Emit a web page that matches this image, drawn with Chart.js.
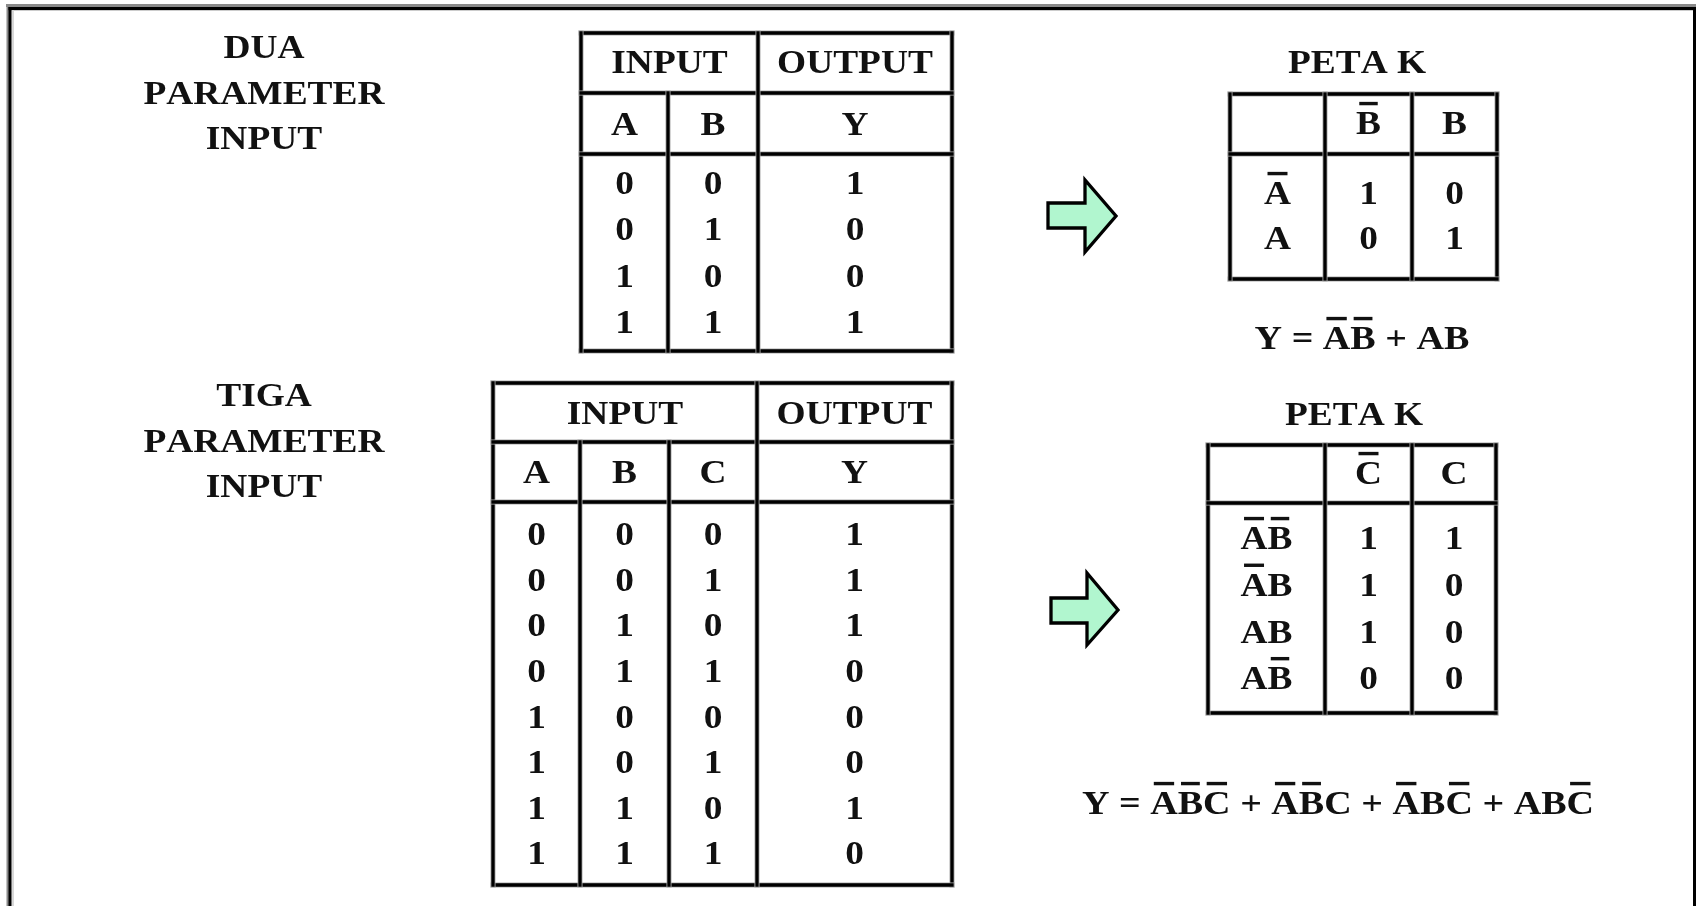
<!DOCTYPE html>
<html><head><meta charset="utf-8">
<script src="https://cdn.jsdelivr.net/npm/chart.js@4.4.1/dist/chart.umd.min.js"></script>
<style>html,body{margin:0;padding:0;background:#fff;overflow:hidden}</style>
</head><body><canvas id="c" width="1696" height="906"></canvas>
<script>
// ---------- data ----------
const titleTwo = ['DUA', 'PARAMETER', 'INPUT'];
const titleThree = ['TIGA', 'PARAMETER', 'INPUT'];
const headTop = ['INPUT', 'OUTPUT'];
const headTwo = ['A', 'B', 'Y'];
const headThree = ['A', 'B', 'C', 'Y'];
const twoA = [0, 0, 1, 1];
const twoB = [0, 1, 0, 1];
const twoY = [1, 0, 0, 1];
const threeA = [0, 0, 0, 0, 1, 1, 1, 1];
const threeB = [0, 0, 1, 1, 0, 0, 1, 1];
const threeC = [0, 1, 0, 1, 0, 1, 0, 1];
const threeY = [1, 1, 1, 0, 0, 0, 1, 0];
const kTitle = 'PETA K';
const kTwoCols = ['!B', 'B'];          // "!" = overbar on next letter
const kTwoRows = ['!A', 'A'];
const kTwoNotB = [1, 0];
const kTwoB = [0, 1];
const kThreeCols = ['!C', 'C'];
const kThreeRows = ['!A!B', '!AB', 'AB', 'A!B'];
const kThreeNotC = [1, 1, 1, 0];
const kThreeC = [1, 0, 0, 0];
const eqTwo = 'Y = !A!B + AB';
const eqThree = 'Y = !A!B!C + !A!BC + !AB!C + AB!C';

// ---------- layout (value space of the chart's x / y scales) ----------
const G = {
  titleX: 264, title2Y0: 47, title3Y0: 395, titleDy: 45.5,
  t2: { xs: [581, 668, 758, 952], ys: [33, 93, 154, 351], headY: 62, subY: 124, rowY0: 183, rowDy: 46.2 },
  t3: { xs: [493, 580, 669, 757, 952], ys: [383, 442, 502, 885], headY: 413, subY: 472, rowY0: 534, rowDy: 45.6 },
  k2: { xs: [1230, 1325, 1412, 1497], ys: [94, 154, 279], titleX: 1357, titleY: 62, headY: 123, rowY0: 193, rowDy: 45 },
  k3: { xs: [1208, 1325, 1412, 1496], ys: [445, 503, 713], titleX: 1354, titleY: 414, headY: 473, rowY0: 538, rowDy: 46.7 },
  eq2: { x: 1362, y: 338 }, eq3: { x: 1338, y: 803 },
  arrows: [
    { x0: 1048, x1: 1085, x2: 1116, sT: 203, sB: 228, hT: 180, hB: 252, tip: 216 },
    { x0: 1051, x1: 1087, x2: 1118, sT: 598, sB: 623, hT: 573, hB: 645, tip: 610 }
  ]
};
const mid = (a, b) => (a + b) / 2;
const TXT = { size: 34, sx: 1.10 };
const EQ = { size: 34, sx: 1.12 };

function textSet(name, texts, xs, ys, style) {
  return {
    label: name, texts: texts, textStyle: style, pointRadius: 0, showLine: false,
    data: texts.map((t, i) => ({ x: Array.isArray(xs) ? xs[i] : xs, y: Array.isArray(ys) ? ys[i] : ys }))
  };
}
function colSet(name, values, x, y0, dy) {
  return textSet(name, values.map(String), x, values.map((v, i) => y0 + i * dy), TXT);
}

const t2 = G.t2, t3 = G.t3, k2 = G.k2, k3 = G.k3;
const datasets = [
  textSet('title2', titleTwo, G.titleX, titleTwo.map((t, i) => G.title2Y0 + i * G.titleDy), TXT),
  textSet('title3', titleThree, G.titleX, titleThree.map((t, i) => G.title3Y0 + i * G.titleDy), TXT),
  // two-input truth table
  textSet('t2head', headTop, [mid(t2.xs[0], t2.xs[2]), mid(t2.xs[2], t2.xs[3])], t2.headY, TXT),
  textSet('t2sub', headTwo, [mid(t2.xs[0], t2.xs[1]), mid(t2.xs[1], t2.xs[2]), mid(t2.xs[2], t2.xs[3])], t2.subY, TXT),
  colSet('t2A', twoA, mid(t2.xs[0], t2.xs[1]), t2.rowY0, t2.rowDy),
  colSet('t2B', twoB, mid(t2.xs[1], t2.xs[2]), t2.rowY0, t2.rowDy),
  colSet('t2Y', twoY, mid(t2.xs[2], t2.xs[3]), t2.rowY0, t2.rowDy),
  // three-input truth table
  textSet('t3head', headTop, [mid(t3.xs[0], t3.xs[3]), mid(t3.xs[3], t3.xs[4])], t3.headY, TXT),
  textSet('t3sub', headThree, [mid(t3.xs[0], t3.xs[1]), mid(t3.xs[1], t3.xs[2]), mid(t3.xs[2], t3.xs[3]), mid(t3.xs[3], t3.xs[4])], t3.subY, TXT),
  colSet('t3A', threeA, mid(t3.xs[0], t3.xs[1]), t3.rowY0, t3.rowDy),
  colSet('t3B', threeB, mid(t3.xs[1], t3.xs[2]), t3.rowY0, t3.rowDy),
  colSet('t3C', threeC, mid(t3.xs[2], t3.xs[3]), t3.rowY0, t3.rowDy),
  colSet('t3Y', threeY, mid(t3.xs[3], t3.xs[4]), t3.rowY0, t3.rowDy),
  // K-map 2
  textSet('k2title', [kTitle], k2.titleX, k2.titleY, TXT),
  textSet('k2cols', kTwoCols, [mid(k2.xs[1], k2.xs[2]), mid(k2.xs[2], k2.xs[3])], k2.headY, TXT),
  textSet('k2rows', kTwoRows, mid(k2.xs[0], k2.xs[1]), kTwoRows.map((r, i) => k2.rowY0 + i * k2.rowDy), TXT),
  colSet('k2nb', kTwoNotB, mid(k2.xs[1], k2.xs[2]), k2.rowY0, k2.rowDy),
  colSet('k2b', kTwoB, mid(k2.xs[2], k2.xs[3]), k2.rowY0, k2.rowDy),
  textSet('eq2', [eqTwo], G.eq2.x, G.eq2.y, EQ),
  // K-map 3
  textSet('k3title', [kTitle], k3.titleX, k3.titleY, TXT),
  textSet('k3cols', kThreeCols, [mid(k3.xs[1], k3.xs[2]), mid(k3.xs[2], k3.xs[3])], k3.headY, TXT),
  textSet('k3rows', kThreeRows, mid(k3.xs[0], k3.xs[1]), kThreeRows.map((r, i) => k3.rowY0 + i * k3.rowDy), TXT),
  colSet('k3nc', kThreeNotC, mid(k3.xs[1], k3.xs[2]), k3.rowY0, k3.rowDy),
  colSet('k3c', kThreeC, mid(k3.xs[2], k3.xs[3]), k3.rowY0, k3.rowDy),
  textSet('eq3', [eqThree], G.eq3.x, G.eq3.y, EQ)
];

function parseMarked(s) {
  const out = [];
  for (let i = 0; i < s.length; i++) {
    if (s[i] === '!') { out.push({ ch: s[i + 1], bar: true }); i++; }
    else out.push({ ch: s[i], bar: false });
  }
  return out;
}
function drawMarked(ctx, s, cx, cy, st) {
  const size = st.size, sx = st.sx;
  ctx.font = 'bold ' + size + 'px "Liberation Serif", "Times New Roman", serif';
  const segs = parseMarked(s);
  const ws = segs.map(g => ctx.measureText(g.ch).width);
  const total = ws.reduce((a, b) => a + b, 0);
  const cap = size * 0.655;
  const base = cy + cap / 2;
  ctx.save();
  ctx.translate(cx - total * sx / 2, base);
  ctx.scale(sx, 1);
  ctx.fillStyle = '#111';
  ctx.textBaseline = 'alphabetic';
  ctx.textAlign = 'left';
  let x = 0;
  segs.forEach((g, i) => {
    ctx.fillText(g.ch, x, 0);
    if (g.bar) {
      const bw = ws[i] * 0.74;
      ctx.fillRect(x + (ws[i] - bw) / 2, -cap - 10, bw, 3.4);
    }
    x += ws[i];
  });
  ctx.restore();
}

const tablePlugin = {
  id: 'tables',
  beforeDatasetsDraw(chart) {
    const ctx = chart.ctx;
    const px = v => chart.scales.x.getPixelForValue(v);
    const py = v => chart.scales.y.getPixelForValue(v);
    function seg(x1, y1, x2, y2) {
      ctx.lineCap = 'square';
      ctx.strokeStyle = '#a9a9a9'; ctx.lineWidth = 5;
      ctx.beginPath(); ctx.moveTo(px(x1), py(y1)); ctx.lineTo(px(x2), py(y2)); ctx.stroke();
      ctx.strokeStyle = '#000'; ctx.lineWidth = 3.3;
      ctx.beginPath(); ctx.moveTo(px(x1), py(y1)); ctx.lineTo(px(x2), py(y2)); ctx.stroke();
    }
    function rect(l, t, r, b) { seg(l, t, r, t); seg(r, t, r, b); seg(r, b, l, b); seg(l, b, l, t); }
    ctx.save();
    // outer frame
    ctx.fillStyle = '#8a8a8a';
    ctx.fillRect(px(6), py(4), px(1696) - px(6), 3);
    ctx.fillRect(px(6.5), py(4), 2.5, py(906) - py(4));
    ctx.fillStyle = '#000';
    ctx.fillRect(px(8.5), py(7), px(1696) - px(8.5), 3.2);
    ctx.fillRect(px(8.5), py(7), 3.2, py(906) - py(7));
    ctx.fillRect(px(1693), py(7), 3, py(906) - py(7));
    ctx.fillStyle = '#d8d8d8';
    ctx.fillRect(px(11.7), py(10.2), 2.3, py(906) - py(10.2));
    // truth table 2
    rect(t2.xs[0], t2.ys[0], t2.xs[3], t2.ys[3]);
    seg(t2.xs[0], t2.ys[1], t2.xs[3], t2.ys[1]);
    seg(t2.xs[0], t2.ys[2], t2.xs[3], t2.ys[2]);
    seg(t2.xs[1], t2.ys[1], t2.xs[1], t2.ys[3]);
    seg(t2.xs[2], t2.ys[0], t2.xs[2], t2.ys[3]);
    // truth table 3
    rect(t3.xs[0], t3.ys[0], t3.xs[4], t3.ys[3]);
    seg(t3.xs[0], t3.ys[1], t3.xs[4], t3.ys[1]);
    seg(t3.xs[0], t3.ys[2], t3.xs[4], t3.ys[2]);
    seg(t3.xs[1], t3.ys[1], t3.xs[1], t3.ys[3]);
    seg(t3.xs[2], t3.ys[1], t3.xs[2], t3.ys[3]);
    seg(t3.xs[3], t3.ys[0], t3.xs[3], t3.ys[3]);
    // K-maps
    [k2, k3].forEach(k => {
      rect(k.xs[0], k.ys[0], k.xs[3], k.ys[2]);
      seg(k.xs[0], k.ys[1], k.xs[3], k.ys[1]);
      seg(k.xs[1], k.ys[0], k.xs[1], k.ys[2]);
      seg(k.xs[2], k.ys[0], k.xs[2], k.ys[2]);
    });
    // arrows
    G.arrows.forEach(a => {
      ctx.beginPath();
      ctx.moveTo(px(a.x0), py(a.sT));
      ctx.lineTo(px(a.x1), py(a.sT));
      ctx.lineTo(px(a.x1), py(a.hT));
      ctx.lineTo(px(a.x2), py(a.tip));
      ctx.lineTo(px(a.x1), py(a.hB));
      ctx.lineTo(px(a.x1), py(a.sB));
      ctx.lineTo(px(a.x0), py(a.sB));
      ctx.closePath();
      ctx.fillStyle = '#b1f6cf';
      ctx.fill();
      ctx.lineJoin = 'miter';
      ctx.strokeStyle = '#000';
      ctx.lineWidth = 3.3;
      ctx.stroke();
    });
    ctx.restore();
  },
  afterDatasetsDraw(chart) {
    const ctx = chart.ctx;
    chart.data.datasets.forEach((ds, i) => {
      if (!ds.texts) return;
      const meta = chart.getDatasetMeta(i);
      meta.data.forEach((el, j) => drawMarked(ctx, String(ds.texts[j]), el.x, el.y, ds.textStyle));
    });
  }
};

new Chart(document.getElementById('c'), {
  type: 'scatter',
  data: { datasets: datasets },
  options: {
    responsive: false, animation: false, events: [],
    layout: { padding: 0 },
    elements: { point: { radius: 0, hoverRadius: 0 } },
    plugins: { legend: { display: false }, tooltip: { enabled: false } },
    scales: {
      x: { type: 'linear', min: 0, max: 1696, display: false },
      y: { type: 'linear', min: 0, max: 906, reverse: true, display: false }
    }
  },
  plugins: [tablePlugin]
});
</script>
</body></html>
